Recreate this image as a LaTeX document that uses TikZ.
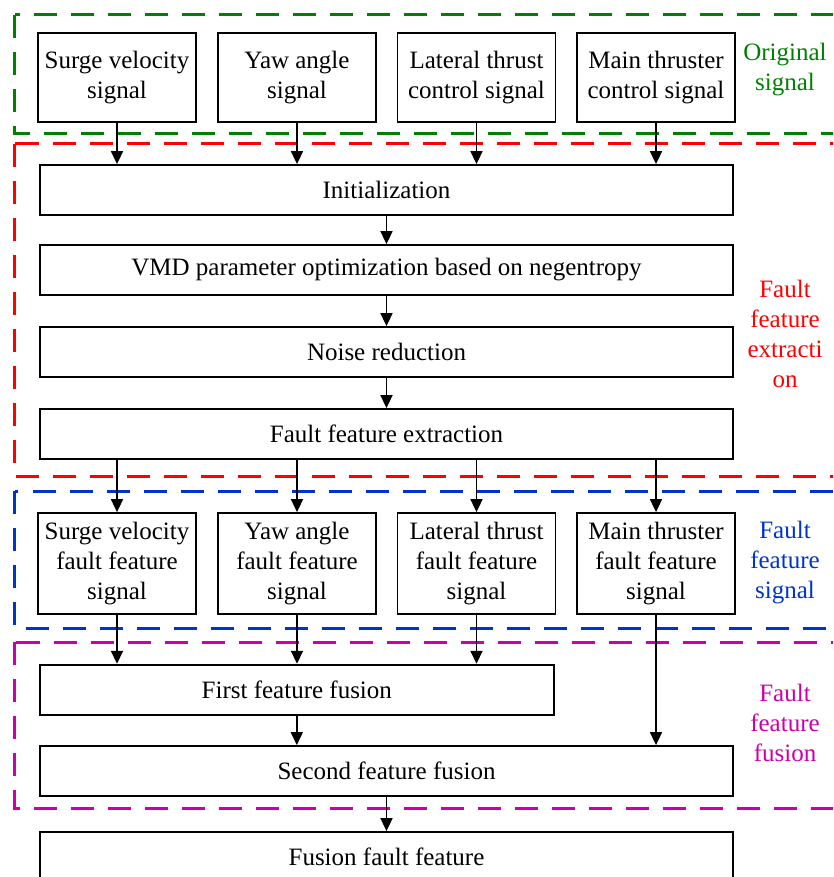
\documentclass[tikz,border=0pt]{standalone}
\usepackage{fontspec}
\setmainfont{Liberation Serif}
\usetikzlibrary{arrows.meta}
\definecolor{cgreen}{RGB}{0,128,0}
\definecolor{cred}{RGB}{255,0,0}
\definecolor{cblue}{RGB}{0,51,204}
\definecolor{cmag}{RGB}{204,0,170}
\begin{document}
\begin{tikzpicture}[x=1pt,y=-1pt,
  txt/.style={font=\fontsize{25}{30}\selectfont, align=center},
  box/.style={txt, draw, line width=1.8pt, inner sep=0pt},
  sbox/.style={box, minimum width=158pt, minimum height=89pt},
  fbox/.style={box, minimum width=158pt, minimum height=101pt},
  wbox/.style={box, minimum width=693pt, minimum height=50pt},
  lab/.style={txt, inner sep=0pt},
  region/.style={line width=3pt, dash pattern=on 23pt off 14pt},
  arr/.style={line width=1.7pt, -{Triangle[length=13pt,width=12pt]}}
]
\useasboundingbox (0,0) rectangle (833,877);
\clip (0,0) rectangle (833,877);
\fill[white] (0,0) rectangle (833,877);

% regions
\draw[region, cgreen] (14.5,15) rectangle (860,134);
\draw[region, cred] (14.5,144) rectangle (860,476);
\draw[region, cblue] (14.5,491) rectangle (860,628);
\draw[region, cmag] (14.5,642) rectangle (860,808);

% top signals
\node[sbox] (s1) at (117,77.5) {Surge velocity\\signal};
\node[sbox] (s2) at (297,77.5) {Yaw angle\\signal};
\node[sbox] (s3) at (476.5,77.5) {Lateral thrust\\control signal};
\node[sbox] (s4) at (656,77.5) {Main thruster\\control signal};

% extraction chain
\node[wbox] (init) at (386.5,190) {Initialization};
\node[wbox] (vmd) at (386.5,270) {VMD parameter optimization based on negentropy};
\node[wbox] (noise) at (386.5,352) {Noise reduction};
\node[wbox] (ffe) at (386.5,434) {Fault feature extraction};

% fault feature signals
\node[fbox] (f1) at (117,563.5) {Surge velocity\\fault feature\\signal};
\node[fbox] (f2) at (297,563.5) {Yaw angle\\fault feature\\signal};
\node[fbox] (f3) at (476.5,563.5) {Lateral thrust\\fault feature\\signal};
\node[fbox] (f4) at (656,563.5) {Main thruster\\fault feature\\signal};

% fusion
\node[box, minimum width=514pt, minimum height=50pt] (ff1) at (296.8,689.7) {First feature fusion};
\node[wbox] (ff2) at (386.5,771) {Second feature fusion};
\node[wbox] (fus) at (386.5,857) {Fusion fault feature};

% labels
\node[lab, text=cgreen] (lg) at (785,70) {Original\\signal};
\node[lab, text=cred] (lr) at (785,334) {Fault\\feature\\extracti\\on};
\node[lab, text=cblue] (lb) at (785,563) {Fault\\feature\\signal};
\node[lab, text=cmag] (lm) at (785,723) {Fault\\feature\\fusion};

% arrows
\foreach \s in {s1,s2,s3,s4} \draw[arr] (\s.south) -- (\s.south |- init.north);
\draw[arr] (init) -- (vmd);
\draw[arr] (vmd) -- (noise);
\draw[arr] (noise) -- (ffe);
\foreach \f in {f1,f2,f3,f4} \draw[arr] (\f.north |- ffe.south) -- (\f.north);
\foreach \f in {f1,f2,f3} \draw[arr] (\f.south) -- (\f.south |- ff1.north);
\draw[arr] (f4.south) -- (f4.south |- ff2.north);
\draw[arr] (ff1) -- (ff1 |- ff2.north);
\draw[arr] (ff2) -- (fus);
\end{tikzpicture}
\end{document}
